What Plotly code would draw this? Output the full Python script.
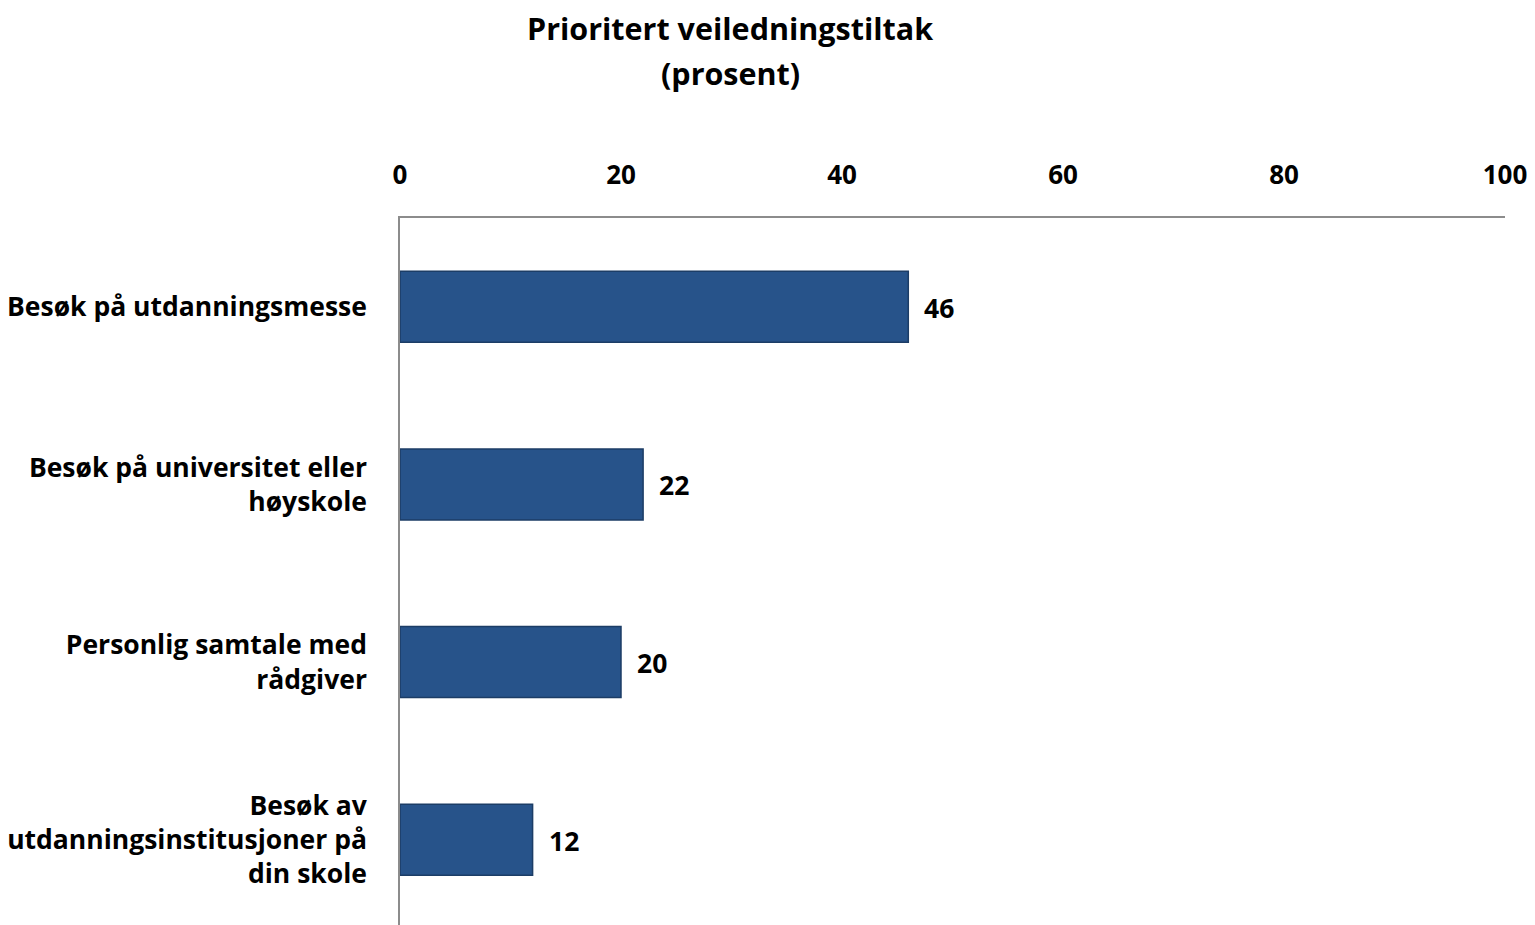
import plotly.graph_objects as go

categories = [
    "Besøk på utdanningsmesse",
    "Besøk på universitet eller<br>høyskole",
    "Personlig samtale med<br>rådgiver",
    "Besøk av<br>utdanningsinstitusjoner på<br>din skole",
]
values = [46, 22, 20, 12]
tick_vals = [0, 20, 40, 60, 80, 100]
title_lines = ["Prioritert veiledningstiltak", "(prosent)"]

FONT = "Open Sans"

# the page body adds an 8px offset; size the figure to fit the window
W, H = 1527, 917
ML, MR, MT = 392, 30, 210

fig = go.Figure()
fig.add_trace(go.Bar(
    x=values,
    y=categories,
    orientation="h",
    width=0.4,
    marker=dict(color="#27538A", line=dict(color="#1C3D66", width=1.5)),
    hoverinfo="skip",
))

for c, v in zip(categories, values):
    fig.add_annotation(
        x=v, y=c, text=f"<b>{v}</b>", showarrow=False,
        xanchor="left", xshift=14, yshift=-1,
        font=dict(family=FONT, size=26.5, color="#000000"),
    )

plot_w = W - ML - MR
plot_h = H - MT


def paper_x(px):
    return (px - ML) / plot_w


def paper_y(px):
    return 1 + (MT - px) / plot_h


fig.add_annotation(
    x=paper_x(722), y=paper_y(20), xref="paper", yref="paper",
    xanchor="center", yanchor="middle", showarrow=False,
    text=f"<b>{title_lines[0]}</b>",
    font=dict(family=FONT, size=30.5, color="#000000"),
)
fig.add_annotation(
    x=paper_x(722), y=paper_y(65), xref="paper", yref="paper",
    xanchor="center", yanchor="middle", showarrow=False,
    text=f"<b>{title_lines[1]}</b>",
    font=dict(family=FONT, size=30.5, color="#000000"),
)

fig.update_layout(
    width=W, height=H,
    margin=dict(l=ML, r=MR, t=MT, b=0),
    paper_bgcolor="white", plot_bgcolor="white",
    showlegend=False,
    font=dict(family=FONT, color="#000000"),
)

fig.update_xaxes(
    side="top",
    range=[0, 100],
    tickvals=tick_vals,
    ticktext=[f"<b>{t}</b>" for t in tick_vals],
    tickfont=dict(family=FONT, size=26, color="#000000"),
    ticks="",
    showgrid=False,
    zeroline=False,
    showline=True, linecolor="#8C8C8C", linewidth=1.5,
    ticklabelstandoff=22,
)

fig.update_yaxes(
    categoryorder="array",
    categoryarray=categories,
    range=[3.48, -0.5],
    tickvals=categories,
    ticktext=[f"<b>{c}</b>" for c in categories],
    tickfont=dict(family=FONT, size=26.5, color="#000000"),
    ticks="",
    showgrid=False,
    zeroline=False,
    showline=True, linecolor="#8C8C8C", linewidth=1.5,
    ticklabelstandoff=26,
    automargin=False,
)

fig.write_html("out.html")
